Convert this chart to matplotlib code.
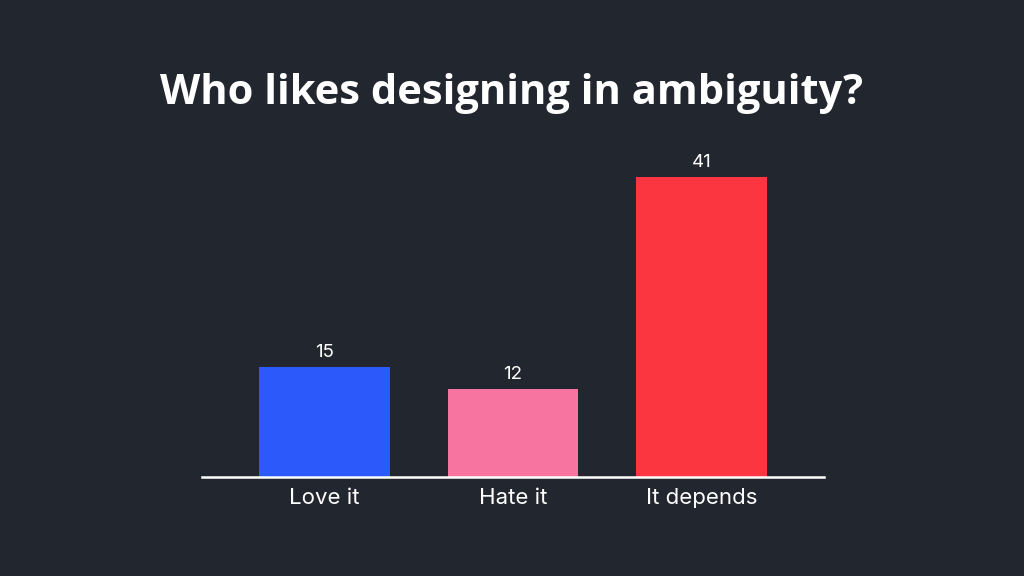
import matplotlib
matplotlib.use("Agg")
import matplotlib.pyplot as plt

categories = ["Love it", "Hate it", "It depends"]
votes = [15, 12, 41]
bar_colors = ["#2b59fa", "#f774a0", "#fb3640"]

BG = "#22262e"

fig = plt.figure(figsize=(10.24, 5.76), dpi=100, facecolor=BG)
ax = fig.add_axes([202 / 1024, 99 / 576, 622 / 1024, 329 / 576])
ax.set_facecolor(BG)

x = range(len(categories))
bars = ax.bar(x, votes, width=0.695, color=bar_colors, zorder=2)
ax.set_xlim(-0.65, 2.65)
ax.set_ylim(0, 45)

# value labels above each bar
for b, v in zip(bars, votes):
    ax.text(b.get_x() + b.get_width() / 2, v + 0.9, str(v), ha="center", va="bottom",
            color="white", fontsize=13.5, family="Inter")

for s in ["top", "right", "left"]:
    ax.spines[s].set_visible(False)
ax.spines["bottom"].set_color("white")
ax.spines["bottom"].set_linewidth(1.8)
ax.set_yticks([])
ax.set_xticks(list(x))
ax.set_xticklabels(categories, color="white", fontsize=16, family="Inter")
ax.tick_params(axis="x", length=0, pad=8)

fig.text(0.5, 1 - 93 / 576, "Who likes designing in ambiguity?", ha="center", va="center",
         color="white", fontsize=30, fontweight="bold", family="Open Sans")

fig.savefig("out.png", facecolor=BG)
